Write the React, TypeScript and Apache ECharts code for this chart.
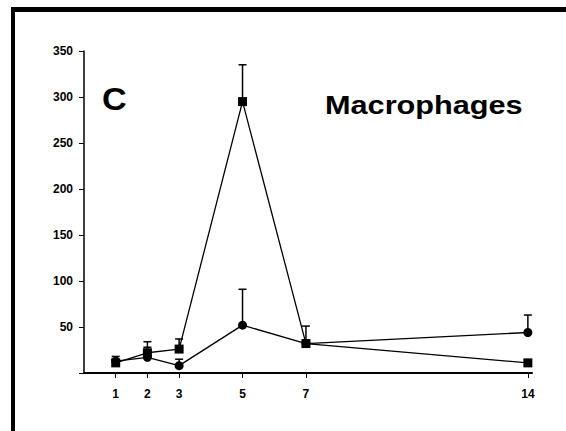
import React, { useEffect, useRef } from "react";
import * as echarts from "echarts";

const days = [1, 2, 3, 5, 7, 14];
const tickLabels = [1, 2, 3, 5, 7, 14];
const squareValues = [11, 22, 26, 295, 32, 11];
const squareUpper: (number | null)[] = [18, 34, 37, 335, 51, null];
const circleValues = [13, 17, 8, 52, 32, 44];
const circleUpper: (number | null)[] = [null, 28, 15, 91, null, 63];

const FONT = "'Liberation Sans', Arial, Helvetica, sans-serif";

export default function App() {
  const ref = useRef<HTMLDivElement>(null);
  useEffect(() => {
    if (!ref.current) return;
    const chart = echarts.init(ref.current, null, { renderer: "svg" });
    const errData: number[][] = [];
    days.forEach((d, i) => {
      if (squareUpper[i] != null) errData.push([d, squareValues[i], squareUpper[i] as number]);
      if (circleUpper[i] != null) errData.push([d, circleValues[i], circleUpper[i] as number]);
    });
    chart.setOption({
      animation: false,
      backgroundColor: "#ffffff",
      grid: { left: 84, top: 51, right: 34, bottom: 58, containLabel: false },
      xAxis: {
        type: "value",
        min: 0,
        max: 14.13,
        splitLine: { show: false },
        axisLine: { show: true, lineStyle: { color: "#000", width: 2 } },
        axisTick: { show: true, length: 5, lineStyle: { color: "#000", width: 1 }, customValues: tickLabels },
        axisLabel: {
          customValues: tickLabels,
          margin: 15,
          color: "#000",
          fontFamily: FONT,
          fontWeight: "bold",
          fontSize: 12,
        },
      },
      yAxis: {
        type: "value",
        min: 0,
        max: 350,
        interval: 50,
        splitLine: { show: false },
        axisLine: { show: true, lineStyle: { color: "#000", width: 1.5 } },
        axisTick: { show: true, length: 5, lineStyle: { color: "#000", width: 1 } },
        axisLabel: {
          margin: 11,
          color: "#000",
          fontFamily: FONT,
          fontWeight: "bold",
          fontSize: 12,
          formatter: (v: number) => (v === 0 ? "" : String(v)),
        },
      },
      series: [
        {
          type: "custom",
          name: "err",
          encode: { x: 0, y: [1, 2] },
          data: errData,
          z: 1,
          renderItem: (params: any, api: any) => {
            const x = api.value(0);
            const y = api.value(1);
            const h = api.value(2);
            const p1 = api.coord([x, y]);
            const p2 = api.coord([x, h]);
            return {
              type: "group",
              children: [
                {
                  type: "line",
                  shape: { x1: p1[0], y1: p1[1], x2: p2[0], y2: p2[1] },
                  style: { stroke: "#000", lineWidth: 1.5 },
                },
                {
                  type: "line",
                  shape: { x1: p2[0] - 4, y1: p2[1], x2: p2[0] + 4, y2: p2[1] },
                  style: { stroke: "#000", lineWidth: 1.5 },
                },
              ],
            };
          },
        },
        {
          type: "line",
          name: "squares",
          data: days.map((d, i) => [d, squareValues[i]]),
          symbol: "rect",
          symbolSize: 9,
          itemStyle: { color: "#000" },
          lineStyle: { color: "#000", width: 1.3 },
          z: 3,
        },
        {
          type: "line",
          name: "circles",
          data: days.map((d, i) => [d, circleValues[i]]),
          symbol: "circle",
          symbolSize: 9,
          itemStyle: { color: "#000" },
          lineStyle: { color: "#000", width: 1.3 },
          z: 3,
        },
      ],
      graphic: [
        { type: "rect", left: 11, top: 7, shape: { width: 560, height: 5 }, style: { fill: "#000" } },
        { type: "rect", left: 11, top: 7, shape: { width: 4, height: 430 }, style: { fill: "#000" } },
        {
          type: "text",
          x: 102,
          y: 84,
          scaleX: 1.1,
          style: { text: "C", fill: "#000", font: `bold 31px ${FONT}` },
        },
        {
          type: "text",
          x: 325,
          y: 92,
          scaleX: 1.18,
          style: { text: "Macrophages", fill: "#000", font: `bold 26px ${FONT}` },
        },
      ],
    });
    return () => chart.dispose();
  }, []);
  return (
    <div
      ref={ref}
      style={{ position: "fixed", left: 0, top: 0, width: 566, height: 431, background: "#fff" }}
    />
  );
}
